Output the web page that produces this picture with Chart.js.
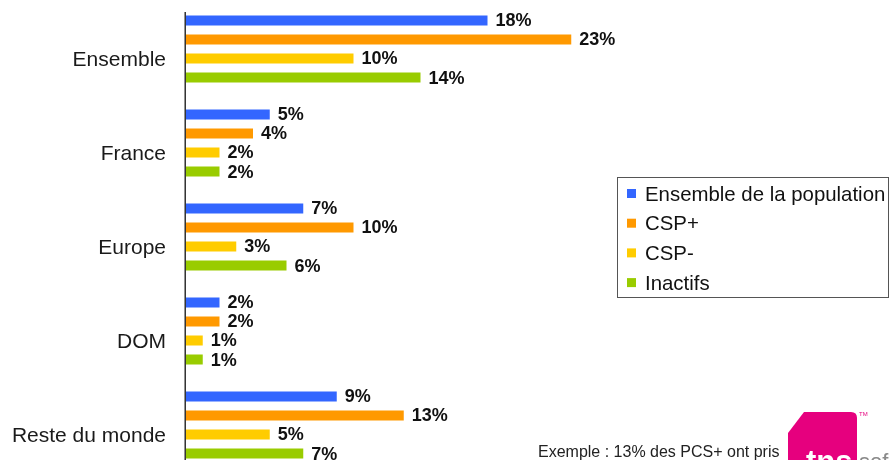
<!DOCTYPE html>
<html>
<head>
<meta charset="utf-8">
<script src="https://cdn.jsdelivr.net/npm/chart.js@4/dist/chart.umd.min.js"></script>
<style>
  html, body { margin: 0; padding: 0; background: #fff; overflow: hidden; }
  #wrap { position: relative; width: 891px; height: 474px; }
</style>
</head>
<body>
<div id="wrap"><canvas id="c" width="891" height="474"></canvas></div>
<script>
const categories = ['Ensemble', 'France', 'Europe', 'DOM', 'Reste du monde'];
const seriesNames = ['Ensemble de la population', 'CSP+', 'CSP-', 'Inactifs'];
const seriesColors = ['#3366ff', '#ff9900', '#ffcc00', '#99cc00'];
const populationValues = [18, 5, 7, 2, 9];
const cspPlusValues = [23, 4, 10, 2, 13];
const cspMinusValues = [10, 2, 3, 1, 5];
const inactifsValues = [14, 2, 6, 1, 7];
const footnote = 'Exemple : 13% des PCS+ ont pris';
const FONT = '"Liberation Sans", Arial, sans-serif';

const allValues = [populationValues, cspPlusValues, cspMinusValues, inactifsValues];

const valueLabels = {
  id: 'valueLabels',
  afterDatasetsDraw(chart) {
    const ctx = chart.ctx;
    ctx.save();
    ctx.font = 'bold 18px ' + FONT;
    ctx.fillStyle = '#111';
    ctx.textBaseline = 'middle';
    ctx.textAlign = 'left';
    chart.data.datasets.forEach((ds, i) => {
      const meta = chart.getDatasetMeta(i);
      meta.data.forEach((el, j) => {
        ctx.fillText(ds.data[j] + '%', el.x + 8, el.y + 1);
      });
    });
    ctx.restore();
  }
};

const decorations = {
  id: 'decorations',
  afterDraw(chart) {
    const ctx = chart.ctx;
    const area = chart.chartArea;
    ctx.save();
    // left axis line
    ctx.strokeStyle = '#111';
    ctx.lineWidth = 1.3;
    ctx.beginPath();
    ctx.moveTo(area.left - 0.8, 12);
    ctx.lineTo(area.left - 0.8, area.bottom);
    ctx.stroke();

    // legend box
    const lx = 617.5, ly = 177.5, lw = 271, lh = 120;
    ctx.fillStyle = '#fff';
    ctx.fillRect(lx, ly, lw, lh);
    ctx.strokeStyle = '#555';
    ctx.lineWidth = 1;
    ctx.strokeRect(lx, ly, lw, lh);
    ctx.font = '20.4px ' + FONT;
    ctx.textBaseline = 'middle';
    ctx.textAlign = 'left';
    chart.data.datasets.forEach((ds, i) => {
      const cy = 194 + i * 29.7;
      ctx.fillStyle = ds.backgroundColor;
      ctx.fillRect(627, cy - 5, 9, 9);
      ctx.fillStyle = '#111';
      ctx.fillText(ds.label, 645, cy + 1);
    });

    // footnote
    ctx.font = '16px ' + FONT;
    ctx.fillStyle = '#222';
    ctx.textBaseline = 'alphabetic';
    ctx.fillText(footnote, 538, 457);

    // logo
    ctx.fillStyle = '#e6007e';
    ctx.beginPath();
    ctx.moveTo(788, 433);
    ctx.lineTo(804, 412);
    ctx.lineTo(851, 412);
    ctx.quadraticCurveTo(857, 412, 857, 418);
    ctx.lineTo(857, 474);
    ctx.lineTo(788, 474);
    ctx.closePath();
    ctx.fill();
    ctx.fillStyle = '#fff';
    ctx.font = 'bold 31px ' + FONT;
    ctx.fillText('tns', 806, 472);
    ctx.fillStyle = '#8a8a8a';
    ctx.font = '22px ' + FONT;
    ctx.fillText('sof', 859, 469);
    ctx.fillStyle = '#e6007e';
    ctx.font = '6px ' + FONT;
    ctx.fillText('TM', 859, 416);
    ctx.restore();
  }
};

new Chart(document.getElementById('c'), {
  type: 'bar',
  data: {
    labels: categories,
    datasets: seriesNames.map((name, i) => ({
      label: name,
      data: allValues[i],
      backgroundColor: seriesColors[i],
      borderWidth: 0,
      categoryPercentage: 0.81,
      barPercentage: 0.52
    }))
  },
  options: {
    indexAxis: 'y',
    responsive: false,
    devicePixelRatio: 1,
    animation: false,
    layout: { padding: { top: 2, bottom: 2, left: 0, right: 202.5 } },
    plugins: { legend: { display: false }, tooltip: { enabled: false } },
    scales: {
      x: { display: false, min: 0, max: 30 },
      y: {
        grid: { display: false, drawTicks: false },
        border: { display: false },
        ticks: {
          font: { family: FONT, size: 21 },
          color: '#1a1a1a',
          padding: 20,
          labelOffset: 11.5
        },
        afterFit(scale) {
          scale.width = 186;
          scale.paddingTop = 0;
          scale.paddingBottom = 0;
        }
      }
    }
  },
  plugins: [valueLabels, decorations]
});
</script>
</body>
</html>
